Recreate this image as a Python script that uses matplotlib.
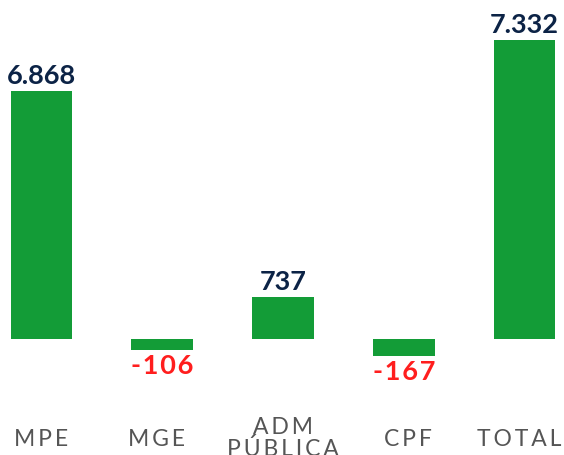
import matplotlib
matplotlib.use('Agg')
import matplotlib.pyplot as plt
import numpy as np

# categories and the numbers printed on the chart
categories = ['MPE', 'MGE', 'ADM\nPÚBLICA', 'CPF', 'TOTAL']
values = [6868, -106, 737, -167, 7332]
value_labels = ['6.868', '-106', '737', '-167', '7.332']
# drawn bar heights as they appear in the picture (the infographic is not to scale)
bar_heights = [6080, -270, 1030, -420, 7332]

GREEN = '#139c37'
NAVY = '#0c2346'
RED = '#ff1e1e'
GRAY = '#555555'
FONT = ['Lato', 'DejaVu Sans']

# small horizontal nudges of the category labels (in bar slots)
label_dx = [0, -0.05, 0, 0.035, -0.04]


def spaced(text, sep='\u200a'):
    # fake letter spacing with small spaces
    return '\n'.join(sep.join(line) for line in text.split('\n'))


fig = plt.figure(figsize=(5.64, 4.56), dpi=100)
ax = fig.add_axes([0, 0, 1, 1])

x = np.arange(len(categories))
ax.bar(x, bar_heights, width=0.51, color=GREEN)

# pixel based limits: bar centres 120.75 px apart, baseline 116 px from bottom
ax.set_xlim(-0.344, 4.327)
ax.set_ylim(-2844, 8337)
ax.axis('off')

for xi, h, v, lab in zip(x, bar_heights, values, value_labels):
    if v >= 0:
        ax.text(xi, h + 110, lab, ha='center', va='bottom', fontsize=19.5,
                fontweight='bold', color=NAVY, family=FONT)
    else:
        ax.text(xi, h - 80, spaced(lab), ha='center', va='top', fontsize=19.5,
                fontweight='bold', color=RED, family=FONT)

for xi, dx, cat in zip(x, label_dx, categories):
    if '\n' in cat:
        ax.text(xi + dx, 1 - 417 / 456, spaced(cat, '\u2009'), transform=ax.get_xaxis_transform(),
                ha='center', va='top', fontsize=16.5, color=GRAY, family=FONT,
                linespacing=1.0)
    else:
        ax.text(xi + dx, 10 / 456, spaced(cat, '\u2009'), transform=ax.get_xaxis_transform(),
                ha='center', va='baseline', fontsize=16.5, color=GRAY, family=FONT)

fig.savefig('out.png', dpi=100)
